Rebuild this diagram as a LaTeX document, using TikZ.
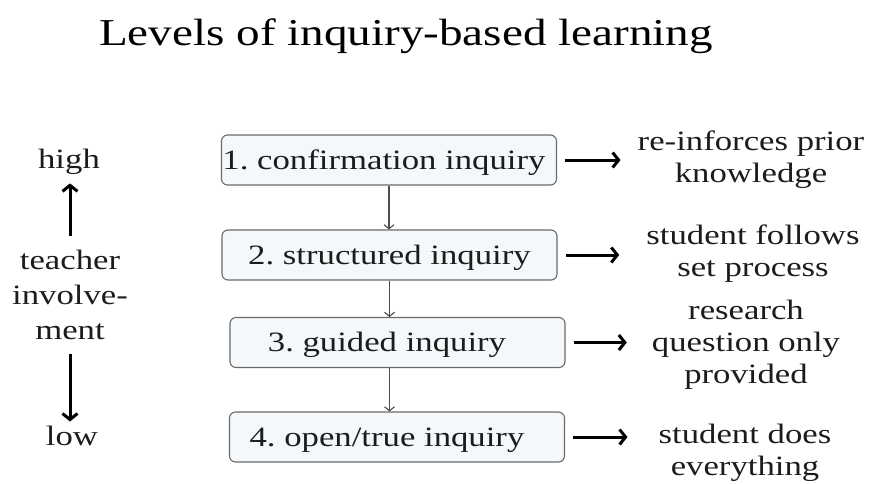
\documentclass[tikz,border=0pt]{standalone}
\usepackage{fontspec}
\setmainfont{Liberation Serif}[FakeStretch=1.24]
\usetikzlibrary{arrows.meta}
\definecolor{boxfill}{HTML}{F5F8FA}
\definecolor{boxline}{HTML}{6A6A6A}
\definecolor{ink}{HTML}{1C1C1C}
\frenchspacing

\begin{document}
\begin{tikzpicture}[x=1pt, y=-1pt,
    level/.style={draw=boxline, fill=boxfill, rounded corners=6pt, line width=1.1pt,
        minimum width=335pt, minimum height=50pt, inner sep=0pt,
        text height=20pt, text depth=2pt, text=ink,
        font=\fontsize{28}{32}\selectfont},
    side/.style={align=center, text=ink, inner sep=0pt, font=\fontsize{28}{32}\selectfont},
    flow/.style={draw=black!70, line width=1.1pt, -{Straight Barb[length=4pt,width=10pt]}},
    bigarrow/.style={line width=3pt, -{Straight Barb[length=6pt,width=15pt]}}]
    \useasboundingbox (0,0) rectangle (869,483);

    \node[anchor=base, font=\fontsize{38}{44}\selectfont] (title) at (406,45) {Levels of inquiry-based learning};

    % the four levels
    \node[level] (l1) at (389,160) {1. confirmation inquiry\hspace*{10pt}};
    \node[level] (l2) at (389.5,255) {2. structured inquiry};
    \node[level] (l3) at (397.5,342.5) {3. guided inquiry\hspace*{21pt}};
    \node[level] (l4) at (397,437) {4. open/true inquiry\hspace*{20pt}};

    \draw[flow] (l1.south) -- (l1.south |- l2.north);
    \draw[flow] (l2.south) -- (l2.south |- l3.north);
    \draw[flow] (l2.south |- l3.south) -- (l2.south |- l4.north);

    % what the student gets at each level
    \node[side] (r1) at (751,159.5) {re-inforces prior\\knowledge};
    \node[side] (r2) at (753,253.5) {student follows\\set process};
    \node[side] (r3) at (746,344.5) {research\\question only\\provided};
    \node[side] (r4) at (745,452.5) {student does\\everything};

    \draw[bigarrow, shorten <=8pt, shorten >=17pt] (l1.east) -- (l1.east -| r1.west);
    \draw[bigarrow, shorten <=8pt, shorten >=27pt] (l2.east) -- (l2.east -| r2.west);
    \draw[bigarrow, shorten <=8pt, shorten >=25pt] (l3.east) -- (l3.east -| r3.west);
    \draw[bigarrow, shorten <=8pt, shorten >=31pt] (l4.east) -- (l4.east -| r4.west);

    % teacher involvement scale
    \node[side] (high) at (69,161.5) {high};
    \node[side, font=\fontsize{28}{35}\selectfont] (teach) at (70,294.5) {teacher\\involve-\\ment};
    \node[side] (low) at (72,435.5) {low};

    \draw[bigarrow, shorten <=13pt, shorten >=9pt] (teach.north) -- (teach.north |- high.south);
    \draw[bigarrow, shorten <=14pt, shorten >=4pt] (teach.south) -- (teach.south |- low.north);
\end{tikzpicture}
\end{document}
